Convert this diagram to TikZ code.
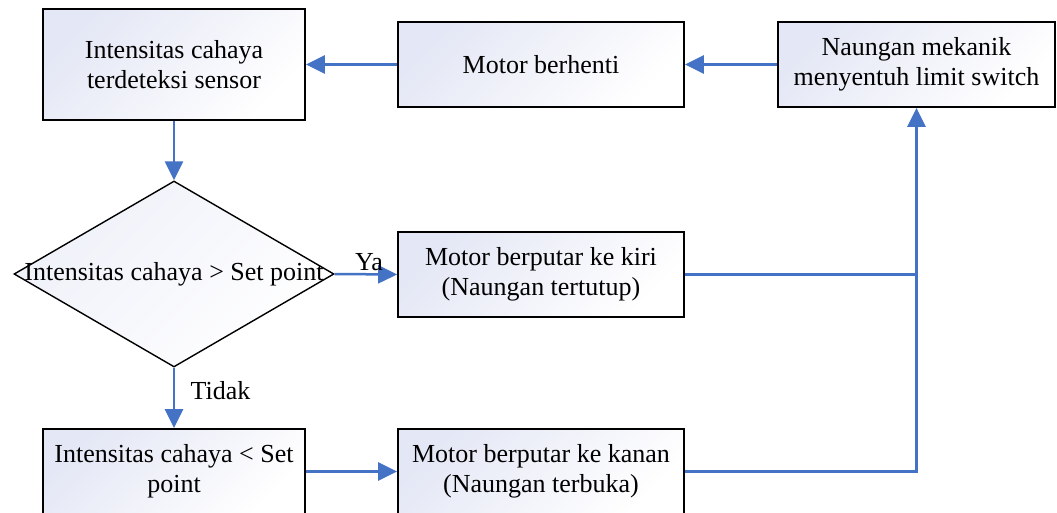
\documentclass[tikz,border=0pt]{standalone}
\usepackage{fontspec}
\setmainfont{Liberation Serif}
\usetikzlibrary{shapes.geometric,arrows.meta}
\definecolor{lav}{RGB}{228,231,245}
\definecolor{arrowblue}{RGB}{68,114,196}
\begin{document}
\begin{tikzpicture}[x=1pt,y=-1pt,
  font=\fontsize{26}{30}\selectfont,
  box/.style={draw=black, line width=1.8pt, top color=lav, bottom color=white, shading angle=45, align=center, inner sep=0pt},
  flow/.style={draw=arrowblue, line width=2.5pt, -{Triangle[length=19pt,width=18pt]}},
  plain/.style={draw=arrowblue, line width=2.5pt}]
\useasboundingbox (0,0) rectangle (1057,513);
\clip (0,0) rectangle (1057,513);
\fill[white] (0,0) rectangle (1057,513);
\node[box, minimum width=262pt, minimum height=111pt] (A) at (174,64.5) {Intensitas cahaya\\terdeteksi sensor};
\node[box, minimum width=286pt, minimum height=85pt] (B) at (541,64.5) {Motor berhenti};
\node[box, minimum width=277pt, minimum height=85pt] (C) at (916.5,64.5) {Naungan mekanik\\menyentuh limit switch};
\node[diamond, draw=black, line width=1.4pt, top color=lav!60, bottom color=white, shading angle=45, minimum width=320pt, minimum height=186pt, inner sep=0pt] (dec) at (174,274) {};
\node (dectext) at (dec.center) {Intensitas cahaya > Set point};
\node[box, minimum width=286pt, minimum height=85pt] (D) at (541,274.5) {Motor berputar ke kiri\\(Naungan tertutup)};
\node[box, minimum width=262pt, minimum height=85pt] (E) at (174,471.5) {Intensitas cahaya < Set\\point};
\node[box, minimum width=286pt, minimum height=85pt] (F) at (541,471.5) {Motor berputar ke kanan\\(Naungan terbuka)};
\draw[flow] (C.west) -- (B.east);
\draw[flow] (B.west) -- (A.east);
\draw[flow] (A.south) -- (dec.north);
\draw[flow] (dec.east) -- node[pos=0.55, above=-1pt] (ya) {Ya} (D.west);
\draw[flow] (dec.south) -- node[pos=0.38, right=12pt] (tidak) {Tidak} (E.north);
\draw[flow] (E.east) -- (F.west);
\draw[flow] (F.east) -| (C.south);
\draw[plain] (D.east) -- (D.east -| C.south);
\end{tikzpicture}
\end{document}
